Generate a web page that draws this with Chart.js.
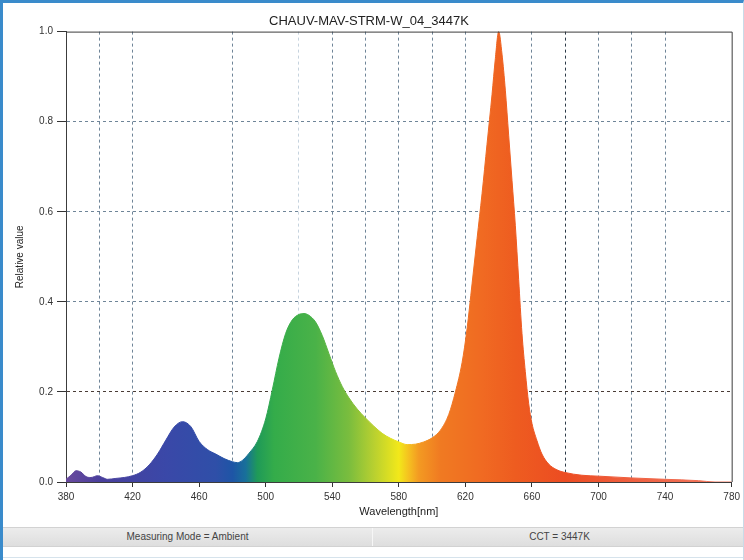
<!DOCTYPE html>
<html>
<head>
<meta charset="utf-8">
<script src="https://cdn.jsdelivr.net/npm/chart.js@4"></script>
<style>
  body { margin: 0; background: #fff; font-family: "Liberation Sans", Arial, sans-serif; }
  #frame {
    position: absolute; left: 0; top: 0; width: 744px; height: 560px;
    box-sizing: border-box; overflow: hidden;
    border-left: 3px solid #3a8bcb; border-top: 3px solid #3a8bcb;
    border-right: 1px solid #c9dbe8;
  }
  #chart-wrap { position: absolute; left: -3px; top: -3px; width: 744px; height: 522px; }
  #status {
    position: absolute; left: 0; top: 524px; width: 741px; height: 18px;
    background: linear-gradient(#ececec, #dedede);
    border-top: 1px solid #d2d2d2; border-bottom: 1px solid #d2d2d2;
    font-size: 10px; color: #444;
  }
  #status div { position: absolute; top: 0; height: 18px; line-height: 18px; text-align: center; }
  #cell-mode { left: 0; width: 369px; border-right: 1px solid #f6f6f6; }
  #cell-cct { left: 372px; width: 369px; }
  #bottom-line { position: absolute; left: 0; top: 554px; width: 741px; height: 1px; background: #d6e3ec; }
</style>
</head>
<body>
<div id="frame">
  <div id="chart-wrap"><canvas id="spectrum"></canvas></div>
  <div id="status">
    <div id="cell-mode">Measuring Mode = Ambient</div>
    <div id="cell-cct">CCT = 3447K</div>
  </div>
  <div id="bottom-line"></div>
</div>
<script>
// Spectrum
const wavelengths = [380, 383, 386, 389, 392, 395, 399, 402, 405, 410, 415, 420, 425, 430, 435,
    440, 445, 450, 455, 460, 465, 470, 475, 480, 483, 486, 490, 495, 500, 504, 508, 512, 516,
    520, 523, 526, 530, 534, 538, 542, 546, 550, 555, 560, 565, 570, 575, 580, 585, 590, 595,
    600, 605, 610, 614, 618, 621, 624, 627, 630, 633, 636, 638, 640, 642, 644, 646, 648, 650,
    652, 654, 656, 658, 660, 663, 666, 670, 675, 680, 690, 700, 720, 740, 760, 770, 780];
const relValues = [0.006, 0.015, 0.025, 0.022, 0.012, 0.010, 0.014, 0.010, 0.006, 0.008, 0.010, 0.014, 0.022, 0.038, 0.062,
    0.093, 0.122, 0.134, 0.123, 0.090, 0.072, 0.062, 0.052, 0.045, 0.043, 0.048, 0.064, 0.090, 0.140, 0.205, 0.275, 0.330, 0.360,
    0.372, 0.374, 0.370, 0.355, 0.325, 0.285, 0.245, 0.212, 0.187, 0.162, 0.142, 0.124, 0.108, 0.097, 0.089, 0.083, 0.084, 0.089,
    0.098, 0.115, 0.150, 0.200, 0.265, 0.340, 0.440, 0.540, 0.640, 0.750, 0.860, 0.940, 1.000, 0.950, 0.870, 0.770, 0.670, 0.570,
    0.450, 0.330, 0.245, 0.175, 0.130, 0.092, 0.062, 0.040, 0.027, 0.021, 0.015, 0.013, 0.009, 0.006, 0.003, 0.000, 0.000];

// Fill colours by wavelength
const colorStopsNm = [380, 400, 440, 470, 480, 488, 495, 505, 530, 550, 565, 580, 586, 592, 605, 630, 650, 680, 720, 780];
const colorStopsHex = ['#6a4a9e', '#4a3f9c', '#3a48a8', '#2f4fa8', '#1e55a6', '#18709a', '#1f9a58', '#34ac4a',
    '#4ab248', '#7abd3e', '#b8d030', '#f2e81a', '#f5c020', '#f39a22', '#f07a22', '#f06a22', '#ee5c20',
    '#ec4c22', '#ef6040', '#f27860'];

const xMin = 380, xMax = 780;
const yTicks = [0.0, 0.2, 0.4, 0.6, 0.8, 1.0];
const hiddenXGrid = [380, 440, 460, 500, 760, 780];

function spectrumFill(context) {
    const chart = context.chart;
    const area = chart.chartArea;
    if (!area) return '#f06622';
    const g = chart.ctx.createLinearGradient(area.left, 0, area.right, 0);
    colorStopsNm.forEach((nm, i) => {
        g.addColorStop((nm - xMin) / (xMax - xMin), colorStopsHex[i]);
    });
    return g;
}

// top and right plot border
const plotFrame = {
    id: 'plotFrame',
    afterDraw(chart) {
        const { ctx, chartArea: a } = chart;
        ctx.save();
        ctx.strokeStyle = '#3c3c3c';
        ctx.lineWidth = 1;
        ctx.beginPath();
        ctx.moveTo(a.left, a.top + 0.5);
        ctx.lineTo(a.right + 0.5, a.top + 0.5);
        ctx.lineTo(a.right + 0.5, a.bottom);
        ctx.stroke();
        ctx.restore();
    }
};

const ctx = document.getElementById('spectrum').getContext('2d');
new Chart(ctx, {
    type: 'line',
    data: {
        datasets: [{
            label: 'Relative value',
            data: wavelengths.map((w, i) => ({ x: w, y: relValues[i] })),
            fill: 'origin',
            backgroundColor: spectrumFill,
            borderColor: spectrumFill,
            borderWidth: 1,
            pointRadius: 0,
            cubicInterpolationMode: 'monotone'
        }]
    },
    options: {
        responsive: true,
        maintainAspectRatio: false,
        animation: false,
        layout: { padding: { left: 4, right: 10, top: 0, bottom: 0 } },
        plugins: {
            legend: { display: false },
            tooltip: { enabled: false },
            title: {
                display: true,
                text: 'CHAUV-MAV-STRM-W_04_3447K',
                color: '#222',
                font: { family: '"Liberation Sans", Arial, sans-serif', size: 13, weight: 'normal' },
                padding: { top: 14, bottom: 2 }
            }
        },
        scales: {
            x: {
                type: 'linear',
                min: xMin,
                max: xMax,
                afterFit: s => { s.height = 40; },
                ticks: {
                    stepSize: 20,
                    autoSkip: false,
                    maxRotation: 0,
                    padding: 4,
                    color: '#333',
                    font: { family: '"Liberation Sans", Arial, sans-serif', size: 10 },
                    callback: v => ((v - xMin) % 40 === 0 ? String(v) : '')
                },
                grid: {
                    color: c => {
                        const v = c.tick && c.tick.value;
                        if (hiddenXGrid.includes(v)) return 'rgba(0,0,0,0)';
                        if (v === 680) return '#2c3a48';
                        if (v === 520) return '#c6d3de';
                        return '#6f8598';
                    },
                    tickColor: c => ((c.tick && (c.tick.value - xMin) % 40 === 0) ? '#333' : 'rgba(0,0,0,0)'),
                    tickLength: 5,
                    tickBorderDash: []
                },
                border: { color: '#3c3c3c', width: 1, dash: [3, 3] },
                title: {
                    display: true,
                    text: 'Wavelength[nm]',
                    color: '#222',
                    font: { family: '"Liberation Sans", Arial, sans-serif', size: 11 },
                    padding: { top: 0, bottom: 3 }
                }
            },
            y: {
                min: 0,
                max: 1,
                afterFit: s => { s.width = 62; },
                afterBuildTicks: s => { s.ticks = yTicks.map(v => ({ value: v })); },
                ticks: {
                    padding: 4,
                    color: '#333',
                    font: { family: '"Liberation Sans", Arial, sans-serif', size: 10 },
                    callback: v => Number(v).toFixed(1)
                },
                grid: {
                    color: c => {
                        const v = c.tick && c.tick.value;
                        if (v === 0 || v === 1) return 'rgba(0,0,0,0)';
                        if (Math.abs(v - 0.2) < 1e-6) return '#4a3c36';
                        return '#6f8598';
                    },
                    tickColor: '#333',
                    tickLength: 9,
                    tickBorderDash: []
                },
                border: { color: '#3c3c3c', width: 1, dash: [3, 3] },
                title: {
                    display: true,
                    text: 'Relative value',
                    color: '#222',
                    font: { family: '"Liberation Sans", Arial, sans-serif', size: 10 },
                    padding: { top: 10, bottom: 0 }
                }
            }
        }
    },
    plugins: [plotFrame]
});
</script>
</body>
</html>
